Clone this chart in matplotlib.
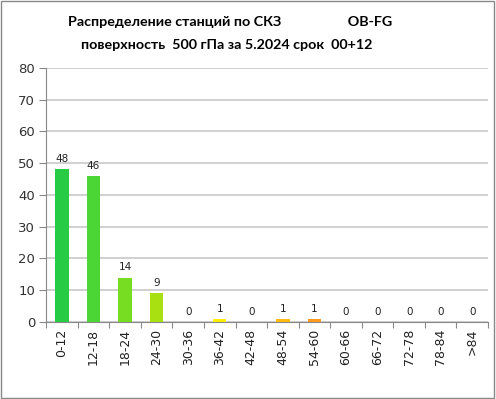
import matplotlib
matplotlib.use("Agg")
import matplotlib.pyplot as plt
from matplotlib.patches import Rectangle

plt.rcParams["font.family"] = ["DejaVu Sans"]

categories = ["0-12", "12-18", "18-24", "24-30", "30-36", "36-42", "42-48",
              "48-54", "54-60", "60-66", "66-72", "72-78", "78-84", ">84"]
values = [48, 46, 14, 9, 0, 1, 0, 1, 1, 0, 0, 0, 0, 0]
colors = ["#28CC44", "#4CD636", "#77DD22", "#A8E012", "#CCE000", "#FFEE00", "#FFD500",
          "#FFBB11", "#FF9922", "#FF7722", "#FF5522", "#FF3322", "#EE2222", "#DD1111"]
yticks = [0, 10, 20, 30, 40, 50, 60, 70, 80]

fig = plt.figure(figsize=(4.96, 3.99), dpi=100)
ax = fig.add_axes([0.093, 0.193, 0.891, 0.637])
x = range(len(categories))
ax.bar(x, values, width=0.42, color=colors, zorder=3)
for i, v in enumerate(values):
    ax.text(i, v + 1.6, str(v), ha="center", va="bottom", fontsize=7.5, color="#222222",
            zorder=4, family="DejaVu Sans")

ax.set_xlim(-0.5, len(categories) - 0.5)
ax.set_ylim(0, 80)
ax.set_yticks(yticks)
ax.set_yticklabels([str(t) for t in yticks], fontsize=9.5, color="#333333", family="DejaVu Sans")
ax.set_xticks([i + 0.5 for i in range(-1, len(categories))], minor=False)
ax.set_xticklabels([""] * (len(categories) + 1))
ax.set_xticks(list(x), minor=True)
ax.set_xticklabels(categories, minor=True, rotation=90, fontsize=9, color="#222222",
                   family="DejaVu Sans")
ax.tick_params(axis="x", which="minor", length=0, pad=5)
ax.tick_params(axis="x", which="major", length=4, color="#888888", direction="out")
ax.tick_params(axis="y", length=5, color="#888888", direction="out", pad=3)
ax.grid(axis="y", color="#C8C8C8", linewidth=1.2, zorder=0)
for s in ["top", "right"]:
    ax.spines[s].set_visible(False)
ax.spines["left"].set_color("#888888")
ax.spines["bottom"].set_color("#888888")

fig.text(0.463, 0.945, "Распределение станций по СКЗ                   OB-FG", ha="center",
         va="center", fontsize=10.3, fontweight="bold", family="Lato")
fig.text(0.458, 0.887, "поверхность  500 гПа за 5.2024 срок  00+12", ha="center",
         va="center", fontsize=10.3, fontweight="bold", family="Lato")

fig.patches.append(Rectangle((0.002, 0.003), 0.994, 0.994, transform=fig.transFigure,
                             fill=False, edgecolor="#888888", linewidth=1))
fig.savefig("out.png", dpi=100)
